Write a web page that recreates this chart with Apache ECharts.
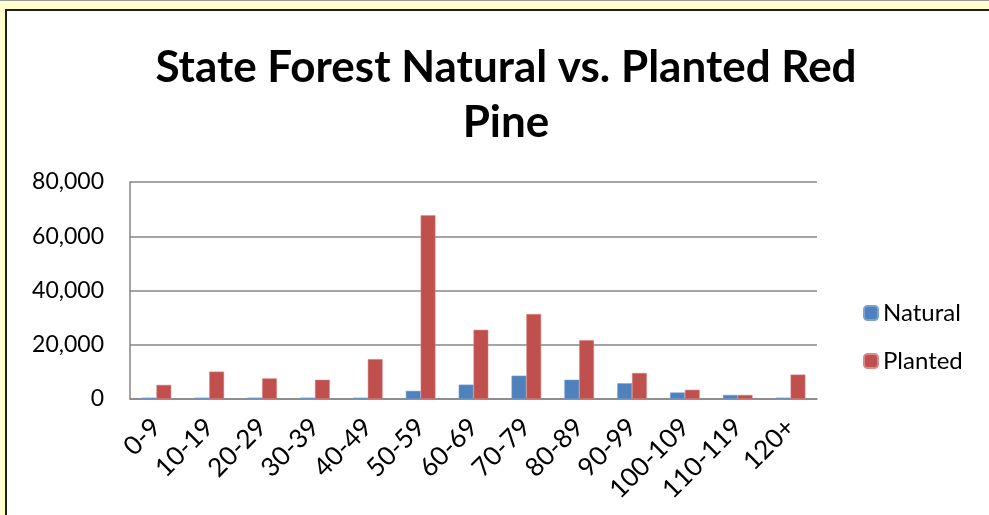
<!DOCTYPE html>
<html>
<head>
<meta charset="utf-8">
<script src="https://cdn.jsdelivr.net/npm/echarts@6/dist/echarts.min.js"></script>
<style>
html,body{margin:0;padding:0;background:#FFFFCC;}
#c{width:989px;height:515px;}
</style>
</head>
<body>
<div id="c"></div>
<script>
const categories = ['0-9','10-19','20-29','30-39','40-49','50-59','60-69','70-79','80-89','90-99','100-109','110-119','120+'];
const natural = [500, 500, 500, 500, 500, 3000, 5300, 8600, 7100, 5800, 2400, 1500, 500];
const planted = [5200, 10100, 7600, 7100, 14700, 67700, 25500, 31300, 21700, 9600, 3400, 1500, 9000];
const yTicks = [0, 20000, 40000, 60000, 80000];

const FONT = 'Lato, "Open Sans", sans-serif';
const chart = echarts.init(document.getElementById('c'));
chart.setOption({
  backgroundColor: '#FFFFCC',
  animation: false,
  graphic: [
    {type:'rect', shape:{x:0,y:0,width:989,height:1}, style:{fill:'#9a9a9a'}},
    {type:'rect', shape:{x:6,y:10,width:1000,height:520}, style:{fill:'#ffffff', stroke:'#1e1e1e', lineWidth:2}, z:-1},
  ],
  title: {
    text: 'State Forest Natural vs. Planted Red\nPine',
    left: 501, top: 35, textAlign: 'center',
    textStyle: {fontFamily: FONT, fontWeight: 'bold', fontSize: 44, lineHeight: 55, color: '#000'}
  },
  legend: {
    orient: 'vertical', left: 858, top: 296, itemGap: 24,
    itemWidth: 14, itemHeight: 14,
    textStyle: {fontFamily: FONT, fontSize: 24, color: '#000'},
    data: ['Natural', 'Planted']
  },
  grid: {left: 130, top: 182, right: 172, bottom: 116, containLabel: false},
  xAxis: {
    type: 'category', data: categories,
    axisLine: {lineStyle: {color: '#868686', width: 1.5}},
    axisTick: {show: false},
    axisLabel: {rotate: 45, fontFamily: FONT, fontSize: 26, color: '#000', margin: 24, interval: 0}
  },
  yAxis: {
    type: 'value', min: 0, max: 80000, interval: 20000,
    axisLine: {show: true, lineStyle: {color: '#868686', width: 1.5}},
    axisTick: {show: false},
    splitLine: {lineStyle: {color: '#868686', width: 1.5}},
    axisLabel: {fontFamily: FONT, fontSize: 23, color: '#000', margin: 26,
      formatter: v => yTicks.includes(v) ? v.toLocaleString('en-US') : ''}
  },
  series: [
    {name: 'Natural', type: 'bar', data: natural, barGap: '0%', barCategoryGap: '44%',
     itemStyle: {color: '#4F81BD', borderColor: '#7ba0d4', borderWidth: 0.5}},
    {name: 'Planted', type: 'bar', data: planted, barGap: '0%', barCategoryGap: '44%',
     itemStyle: {color: '#C0504D', borderColor: '#d98a88', borderWidth: 0.5}}
  ]
});
</script>
</body>
</html>
